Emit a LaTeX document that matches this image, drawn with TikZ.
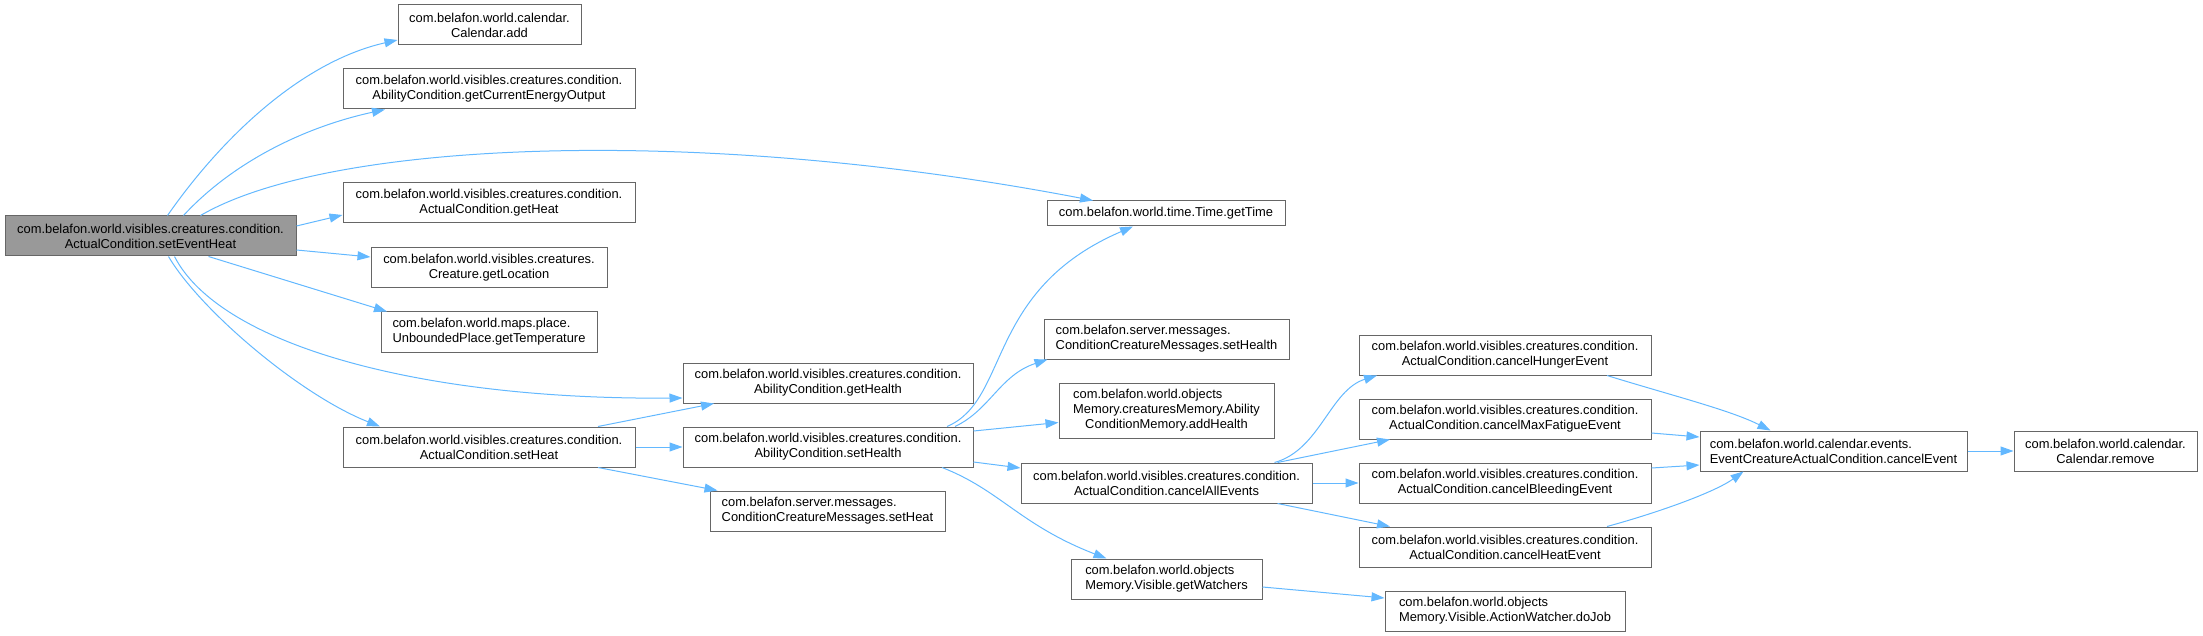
\documentclass[tikz,border=0pt]{standalone}
\usepackage{fontspec}
\setmainfont{Liberation Sans}
\usetikzlibrary{arrows.meta}
\definecolor{dxEdge}{HTML}{63B8FF}
\definecolor{dxLine}{HTML}{666666}
\definecolor{dxRoot}{HTML}{999999}
\newcommand{\dxfont}{\fontsize{12.9}{15}\selectfont}

\begin{document}
\begin{tikzpicture}[x=1pt,y=-1pt,
  fn/.style={draw=dxLine,line width=1pt,fill=white,inner sep=0pt,minimum height=40,align=center,font=\dxfont},
  fnl/.style={fn,align=left},
  call/.style={draw=dxEdge,line width=1pt,-{Triangle[length=13pt,width=9pt]}}]
\useasboundingbox (0,0) rectangle (2203,636);
\node[fn,fill=dxRoot,minimum width=291] (root) at (150.5,236) {com.belafon.world.visibles.creatures.condition.\\ActualCondition.setEventHeat};
\node[fn,minimum width=183] (caladd) at (489.5,25) {com.belafon.world.calendar.\\Calendar.add};
\node[fn,minimum width=292] (energy) at (489,89) {com.belafon.world.visibles.creatures.condition.\\AbilityCondition.getCurrentEnergyOutput};
\node[fn,minimum width=292] (getheat) at (489,203) {com.belafon.world.visibles.creatures.condition.\\ActualCondition.getHeat};
\node[fn,minimum width=236] (location) at (489,268) {com.belafon.world.visibles.creatures.\\Creature.getLocation};
\node[fnl,minimum width=216] (temper) at (489,332) {com.belafon.world.maps.place.\\UnboundedPlace.getTemperature};
\node[fn,minimum width=292] (setheat) at (489,447) {com.belafon.world.visibles.creatures.condition.\\ActualCondition.setHeat};
\node[fn,minimum width=290] (gethealth) at (828,383) {com.belafon.world.visibles.creatures.condition.\\AbilityCondition.getHealth};
\node[fn,minimum width=290] (sethealth) at (828,447) {com.belafon.world.visibles.creatures.condition.\\AbilityCondition.setHealth};
\node[fnl,minimum width=235] (msgheat) at (827.5,511) {com.belafon.server.messages.\\ConditionCreatureMessages.setHeat};
\node[fn,minimum width=238,minimum height=25] (gettime) at (1166,213.5) {com.belafon.world.time.Time.getTime};
\node[fnl,minimum width=245] (msghealth) at (1166.5,339) {com.belafon.server.messages.\\ConditionCreatureMessages.setHealth};
\node[fn,minimum width=215,minimum height=55] (addhealth) at (1166.5,410.5) {\begin{tabular}{@{}l@{}}com.belafon.world.objects\\Memory.creaturesMemory.Ability\\\multicolumn{1}{@{}c@{}}{ConditionMemory.addHealth}\end{tabular}};
\node[fn,minimum width=291] (cancelall) at (1166.5,483) {com.belafon.world.visibles.creatures.condition.\\ActualCondition.cancelAllEvents};
\node[fnl,minimum width=191] (watchers) at (1166.5,579) {com.belafon.world.objects\\Memory.Visible.getWatchers};
\node[fn,minimum width=292] (hunger) at (1505,355) {com.belafon.world.visibles.creatures.condition.\\ActualCondition.cancelHungerEvent};
\node[fn,minimum width=292] (fatigue) at (1505,419) {com.belafon.world.visibles.creatures.condition.\\ActualCondition.cancelMaxFatigueEvent};
\node[fn,minimum width=292] (bleeding) at (1505,483) {com.belafon.world.visibles.creatures.condition.\\ActualCondition.cancelBleedingEvent};
\node[fn,minimum width=292] (heatev) at (1505,547) {com.belafon.world.visibles.creatures.condition.\\ActualCondition.cancelHeatEvent};
\node[fnl,minimum width=240] (dojob) at (1505,611) {com.belafon.world.objects\\Memory.Visible.ActionWatcher.doJob};
\node[fnl,minimum width=267] (cancelev) at (1833.5,451) {com.belafon.world.calendar.events.\\EventCreatureActualCondition.cancelEvent};
\node[fn,minimum width=183] (calremove) at (2105.5,451) {com.belafon.world.calendar.\\Calendar.remove};
\draw[call] ([xshift=17]root.north) .. controls (220,140) and (300,62) .. ([yshift=-15]caladd.west);
\draw[call] ([xshift=33]root.north) .. controls (230,165) and (300,128) .. ([xshift=-104]energy.south);
\draw[call] ([xshift=50]root.north) .. controls (330,140) and (700,125) .. ([xshift=-73]gettime.north);
\draw[call] ([yshift=10]root.east) -- ([yshift=-12]getheat.west);
\draw[call] ([yshift=-14]root.east) -- ([yshift=11]location.west);
\draw[call] ([xshift=58]root.south) -- ([xshift=-102]temper.north);
\draw[call] ([xshift=24]root.south) .. controls (220,345) and (420,400) .. ([yshift=-15]gethealth.west);
\draw[call] ([xshift=18]root.south) .. controls (200,310) and (300,395) .. ([xshift=-109]setheat.north);
\draw[call] ([xshift=109]setheat.north) -- ([xshift=-114]gethealth.south);
\draw[call] (setheat.east) -- (sethealth.west);
\draw[call] ([xshift=109]setheat.south) -- ([xshift=-110]msgheat.north);
\draw[call] ([xshift=119]sethealth.north) .. controls (1010,400) and (985,290) .. ([xshift=-33]gettime.south);
\draw[call] ([xshift=127]sethealth.north) .. controls (990,410) and (1000,375) .. ([xshift=-119]msghealth.south);
\draw[call] ([yshift=16]sethealth.east) -- ([yshift=-12]addhealth.west);
\draw[call] ([yshift=-15]sethealth.east) -- ([yshift=15]cancelall.west);
\draw[call] ([xshift=114]sethealth.south) .. controls (1000,490) and (1020,525) .. ([xshift=-60]watchers.north);
\draw[call] ([xshift=108]cancelall.north) .. controls (1320,450) and (1330,390) .. ([xshift=-128]hunger.south);
\draw[call] ([xshift=111]cancelall.north) -- ([xshift=-115]fatigue.south);
\draw[call] (cancelall.east) -- (bleeding.west);
\draw[call] ([xshift=111]cancelall.south) -- ([xshift=-115]heatev.north);
\draw[call] ([yshift=-8]watchers.east) -- ([yshift=13]dojob.west);
\draw[call] ([xshift=102]hunger.south) .. controls (1670,395) and (1730,410) .. ([xshift=-63]cancelev.north);
\draw[call] ([yshift=-14]fatigue.east) -- ([yshift=14]cancelev.west);
\draw[call] ([yshift=15]bleeding.east) -- ([yshift=-14]cancelev.west);
\draw[call] ([xshift=102]heatev.north) .. controls (1660,512) and (1715,492) .. ([xshift=-90]cancelev.south);
\draw[call] (cancelev.east) -- (calremove.west);
\end{tikzpicture}
\end{document}
